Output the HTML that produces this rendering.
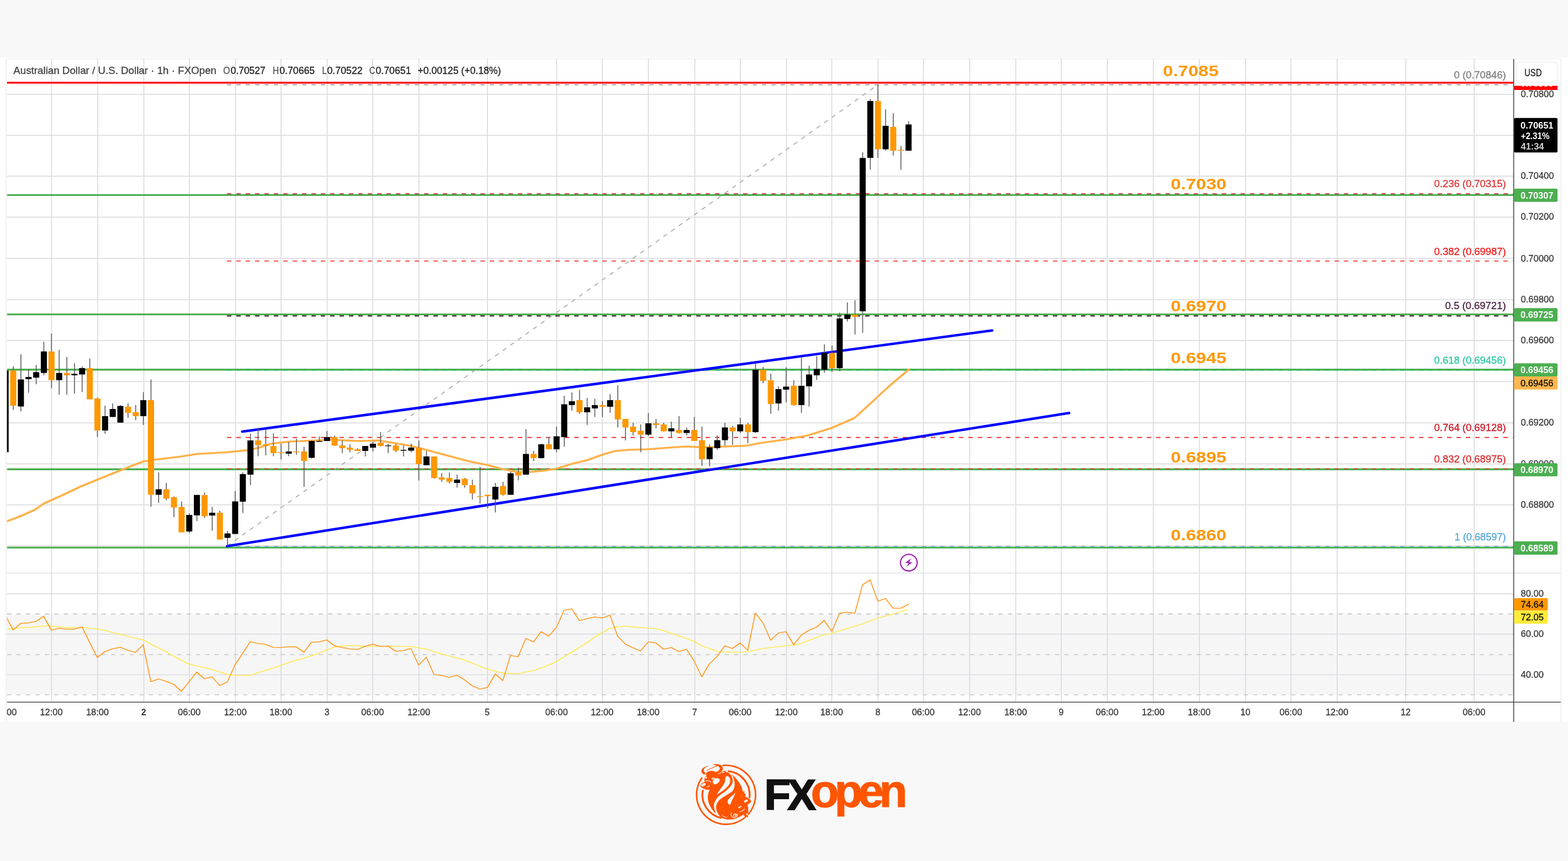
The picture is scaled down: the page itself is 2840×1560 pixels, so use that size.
<!DOCTYPE html>
<html lang="en"><head><meta charset="utf-8"><title>AUDUSD chart</title>
<style>
html,body{margin:0;padding:0;}
body{width:2840px;height:1560px;background:#f8f8f8;position:relative;overflow:hidden;font-family:"Liberation Sans", sans-serif;}
#band{position:absolute;left:0;top:104px;width:2840px;height:1204px;background:#fff;}
</style></head><body>
<div id="band"></div>
<svg width="2840" height="1560" viewBox="0 0 2840 1560" font-family='"Liberation Sans", sans-serif' style="position:absolute;left:0;top:0">
<defs>
<clipPath id="cpMain"><rect x="12.6" y="107.0" width="2728.4" height="931.2"/></clipPath>
<clipPath id="cpAll"><rect x="12.6" y="107.0" width="2728.4" height="1165.3"/></clipPath>
<clipPath id="cpRsi"><rect x="12.6" y="1038.2" width="2728.4" height="234.0999999999999"/></clipPath>
<clipPath id="cpTime"><rect x="12.6" y="1272.3" width="2728.4" height="40"/></clipPath>
</defs>
<path d="M11.3,1308 L11.3,106.5 L2827.5,106.5 L2827.5,1308" fill="none" stroke="#f3f3f3" stroke-width="2.6"/>
<rect x="12.60" y="1112.50" width="2728.40" height="146.10" fill="#f6f6f7"/>
<line x1="93.30" y1="107.00" x2="93.30" y2="1272.30" stroke="#d9d9dc" stroke-width="1.6"/>
<line x1="176.80" y1="107.00" x2="176.80" y2="1272.30" stroke="#d9d9dc" stroke-width="1.6"/>
<line x1="260.55" y1="107.00" x2="260.55" y2="1272.30" stroke="#d9d9dc" stroke-width="1.6"/>
<line x1="343.05" y1="107.00" x2="343.05" y2="1272.30" stroke="#d9d9dc" stroke-width="1.6"/>
<line x1="426.55" y1="107.00" x2="426.55" y2="1272.30" stroke="#d9d9dc" stroke-width="1.6"/>
<line x1="509.05" y1="107.00" x2="509.05" y2="1272.30" stroke="#d9d9dc" stroke-width="1.6"/>
<line x1="592.55" y1="107.00" x2="592.55" y2="1272.30" stroke="#d9d9dc" stroke-width="1.6"/>
<line x1="675.05" y1="107.00" x2="675.05" y2="1272.30" stroke="#d9d9dc" stroke-width="1.6"/>
<line x1="758.80" y1="107.00" x2="758.80" y2="1272.30" stroke="#d9d9dc" stroke-width="1.6"/>
<line x1="882.80" y1="107.00" x2="882.80" y2="1272.30" stroke="#d9d9dc" stroke-width="1.6"/>
<line x1="1008.30" y1="107.00" x2="1008.30" y2="1272.30" stroke="#d9d9dc" stroke-width="1.6"/>
<line x1="1090.80" y1="107.00" x2="1090.80" y2="1272.30" stroke="#d9d9dc" stroke-width="1.6"/>
<line x1="1174.30" y1="107.00" x2="1174.30" y2="1272.30" stroke="#d9d9dc" stroke-width="1.6"/>
<line x1="1258.55" y1="107.00" x2="1258.55" y2="1272.30" stroke="#d9d9dc" stroke-width="1.6"/>
<line x1="1340.80" y1="107.00" x2="1340.80" y2="1272.30" stroke="#d9d9dc" stroke-width="1.6"/>
<line x1="1424.55" y1="107.00" x2="1424.55" y2="1272.30" stroke="#d9d9dc" stroke-width="1.6"/>
<line x1="1506.55" y1="107.00" x2="1506.55" y2="1272.30" stroke="#d9d9dc" stroke-width="1.6"/>
<line x1="1590.30" y1="107.00" x2="1590.30" y2="1272.30" stroke="#d9d9dc" stroke-width="1.6"/>
<line x1="1672.55" y1="107.00" x2="1672.55" y2="1272.30" stroke="#d9d9dc" stroke-width="1.6"/>
<line x1="1756.30" y1="107.00" x2="1756.30" y2="1272.30" stroke="#d9d9dc" stroke-width="1.6"/>
<line x1="1839.80" y1="107.00" x2="1839.80" y2="1272.30" stroke="#d9d9dc" stroke-width="1.6"/>
<line x1="1922.30" y1="107.00" x2="1922.30" y2="1272.30" stroke="#d9d9dc" stroke-width="1.6"/>
<line x1="2005.60" y1="107.00" x2="2005.60" y2="1272.30" stroke="#d9d9dc" stroke-width="1.6"/>
<line x1="2088.90" y1="107.00" x2="2088.90" y2="1272.30" stroke="#d9d9dc" stroke-width="1.6"/>
<line x1="2172.40" y1="107.00" x2="2172.40" y2="1272.30" stroke="#d9d9dc" stroke-width="1.6"/>
<line x1="2256.00" y1="107.00" x2="2256.00" y2="1272.30" stroke="#d9d9dc" stroke-width="1.6"/>
<line x1="2338.30" y1="107.00" x2="2338.30" y2="1272.30" stroke="#d9d9dc" stroke-width="1.6"/>
<line x1="2421.80" y1="107.00" x2="2421.80" y2="1272.30" stroke="#d9d9dc" stroke-width="1.6"/>
<line x1="2546.30" y1="107.00" x2="2546.30" y2="1272.30" stroke="#d9d9dc" stroke-width="1.6"/>
<line x1="2670.05" y1="107.00" x2="2670.05" y2="1272.30" stroke="#d9d9dc" stroke-width="1.6"/>
<line x1="12.60" y1="171.00" x2="2741.00" y2="171.00" stroke="#e0e0e0" stroke-width="1.9"/>
<line x1="12.60" y1="245.20" x2="2741.00" y2="245.20" stroke="#e0e0e0" stroke-width="1.9"/>
<line x1="12.60" y1="319.30" x2="2741.00" y2="319.30" stroke="#e0e0e0" stroke-width="1.9"/>
<line x1="12.60" y1="393.50" x2="2741.00" y2="393.50" stroke="#e0e0e0" stroke-width="1.9"/>
<line x1="12.60" y1="468.30" x2="2741.00" y2="468.30" stroke="#e0e0e0" stroke-width="1.9"/>
<line x1="12.60" y1="542.90" x2="2741.00" y2="542.90" stroke="#e0e0e0" stroke-width="1.9"/>
<line x1="12.60" y1="617.00" x2="2741.00" y2="617.00" stroke="#e0e0e0" stroke-width="1.9"/>
<line x1="12.60" y1="691.30" x2="2741.00" y2="691.30" stroke="#e0e0e0" stroke-width="1.9"/>
<line x1="12.60" y1="766.30" x2="2741.00" y2="766.30" stroke="#e0e0e0" stroke-width="1.9"/>
<line x1="12.60" y1="840.50" x2="2741.00" y2="840.50" stroke="#e0e0e0" stroke-width="1.9"/>
<line x1="12.60" y1="914.70" x2="2741.00" y2="914.70" stroke="#e0e0e0" stroke-width="1.9"/>
<line x1="12.60" y1="988.80" x2="2741.00" y2="988.80" stroke="#e0e0e0" stroke-width="1.9"/>
<line x1="12.60" y1="1075.80" x2="2741.00" y2="1075.80" stroke="#dddde2" stroke-width="1.7"/>
<line x1="12.60" y1="1148.80" x2="2741.00" y2="1148.80" stroke="#dddde2" stroke-width="1.7"/>
<line x1="12.60" y1="1222.50" x2="2741.00" y2="1222.50" stroke="#dddde2" stroke-width="1.7"/>
<line x1="12.60" y1="1112.50" x2="2741.00" y2="1112.50" stroke="#bcbcbc" stroke-width="1.3" stroke-dasharray="8 9.1"/>
<line x1="12.60" y1="1186.20" x2="2741.00" y2="1186.20" stroke="#bcbcbc" stroke-width="1.3" stroke-dasharray="8 9.1"/>
<line x1="12.60" y1="1258.90" x2="2741.00" y2="1258.90" stroke="#bcbcbc" stroke-width="1.3" stroke-dasharray="8 9.1"/>
<line x1="12.60" y1="1038.20" x2="2827.00" y2="1038.20" stroke="#dcdfe8" stroke-width="1.6"/>
<g clip-path="url(#cpMain)">
<line x1="12.60" y1="149.90" x2="2741.00" y2="149.90" stroke="#ff0000" stroke-width="3.1"/>
<line x1="12.60" y1="353.40" x2="2741.00" y2="353.40" stroke="#4caf50" stroke-width="3.4"/>
<line x1="12.60" y1="569.60" x2="2741.00" y2="569.60" stroke="#4caf50" stroke-width="3.4"/>
<line x1="12.60" y1="669.80" x2="2741.00" y2="669.80" stroke="#4caf50" stroke-width="3.4"/>
<line x1="12.60" y1="850.20" x2="2741.00" y2="850.20" stroke="#4caf50" stroke-width="3.4"/>
<line x1="12.60" y1="992.10" x2="2741.00" y2="992.10" stroke="#4caf50" stroke-width="3.4"/>
<line x1="411.00" y1="153.60" x2="2741.00" y2="153.60" stroke="#7a7a7a" stroke-width="1.4" stroke-dasharray="8 9"/>
<line x1="411.00" y1="351.20" x2="2741.00" y2="351.20" stroke="#d02f2f" stroke-width="1.8" stroke-dasharray="8 9"/>
<line x1="411.00" y1="473.00" x2="2741.00" y2="473.00" stroke="#f51c1c" stroke-width="1.6" stroke-dasharray="8 9"/>
<line x1="411.00" y1="572.30" x2="2741.00" y2="572.30" stroke="#4a1f3a" stroke-width="2.2" stroke-dasharray="8 9"/>
<line x1="411.00" y1="671.20" x2="2741.00" y2="671.20" stroke="#26c6a0" stroke-width="1.3" stroke-dasharray="8 9"/>
<line x1="411.00" y1="792.60" x2="2741.00" y2="792.60" stroke="#f01818" stroke-width="1.6" stroke-dasharray="8 9"/>
<line x1="411.00" y1="849.60" x2="2741.00" y2="849.60" stroke="#e03030" stroke-width="1.5" stroke-dasharray="8 9"/>
<line x1="411.00" y1="990.20" x2="2741.00" y2="990.20" stroke="#5aa9dd" stroke-width="1.6" stroke-dasharray="8 9"/>
<line x1="411.00" y1="989.50" x2="1590.00" y2="153.60" stroke="#a6a6a6" stroke-width="1.6" stroke-dasharray="8 9"/>
<line x1="438.80" y1="782.00" x2="1797.00" y2="598.70" stroke="#0000ff" stroke-width="4.6" stroke-linecap="round"/>
<line x1="411.30" y1="989.60" x2="1936.40" y2="748.30" stroke="#0000ff" stroke-width="4.6" stroke-linecap="round"/>
<polyline points="12.50,944.50 37.50,935.00 62.50,924.00 80.00,912.00 112.50,897.50 145.00,882.00 176.50,869.00 212.50,854.50 237.50,844.50 260.00,836.00 280.00,833.00 325.00,827.50 357.50,822.50 410.00,819.50 450.00,815.50 470.00,811.00 490.00,804.00 525.00,800.00 562.50,798.50 600.00,796.50 625.00,798.00 650.00,799.00 685.00,798.00 712.50,802.50 745.00,808.00 775.00,816.00 812.50,826.00 850.00,836.00 882.50,842.50 912.50,850.50 937.50,855.00 962.50,855.00 987.50,852.50 1008.00,849.00 1037.50,840.00 1062.50,834.00 1090.50,824.00 1112.50,817.50 1137.50,815.00 1174.00,814.00 1212.50,811.00 1242.50,809.00 1275.00,810.50 1312.50,809.00 1352.50,807.50 1375.00,803.00 1425.00,796.00 1462.50,789.00 1506.00,775.50 1547.50,757.50 1575.00,732.50 1610.00,700.00 1646.00,669.50" fill="none" stroke="#ffb24a" stroke-width="3.7" stroke-linejoin="round" stroke-linecap="round"/>
<line x1="10.14" y1="671.25" x2="10.14" y2="819.25" stroke="#5c5c5c" stroke-width="1.6"/>
<rect x="4.64" y="671.25" width="11.00" height="148.00" fill="#000000"/>
<line x1="24.00" y1="663.75" x2="24.00" y2="742.50" stroke="#5c5c5c" stroke-width="1.6"/>
<rect x="18.50" y="671.25" width="11.00" height="63.75" fill="#ff9800"/>
<line x1="37.86" y1="642.00" x2="37.86" y2="745.50" stroke="#5c5c5c" stroke-width="1.6"/>
<rect x="32.36" y="687.50" width="11.00" height="49.00" fill="#000000"/>
<line x1="51.72" y1="668.75" x2="51.72" y2="711.75" stroke="#5c5c5c" stroke-width="1.6"/>
<rect x="46.22" y="683.00" width="11.00" height="4.00" fill="#000000"/>
<line x1="65.58" y1="661.25" x2="65.58" y2="696.25" stroke="#5c5c5c" stroke-width="1.6"/>
<rect x="60.08" y="674.25" width="11.00" height="10.00" fill="#000000"/>
<line x1="79.44" y1="619.25" x2="79.44" y2="680.00" stroke="#5c5c5c" stroke-width="1.6"/>
<rect x="73.94" y="636.75" width="11.00" height="39.00" fill="#000000"/>
<line x1="93.30" y1="604.50" x2="93.30" y2="703.50" stroke="#5c5c5c" stroke-width="1.6"/>
<rect x="87.80" y="636.75" width="11.00" height="52.00" fill="#ff9800"/>
<line x1="107.16" y1="633.75" x2="107.16" y2="715.00" stroke="#5c5c5c" stroke-width="1.6"/>
<rect x="101.66" y="675.75" width="11.00" height="13.00" fill="#000000"/>
<line x1="121.02" y1="646.75" x2="121.02" y2="715.00" stroke="#5c5c5c" stroke-width="1.6"/>
<rect x="115.52" y="675.75" width="11.00" height="4.25" fill="#ff9800"/>
<line x1="134.88" y1="658.25" x2="134.88" y2="713.50" stroke="#5c5c5c" stroke-width="1.6"/>
<rect x="129.38" y="677.25" width="11.00" height="2.75" fill="#000000"/>
<line x1="148.74" y1="663.75" x2="148.74" y2="710.50" stroke="#5c5c5c" stroke-width="1.6"/>
<rect x="143.24" y="667.00" width="11.00" height="11.50" fill="#000000"/>
<line x1="162.60" y1="649.50" x2="162.60" y2="723.50" stroke="#5c5c5c" stroke-width="1.6"/>
<rect x="157.10" y="667.00" width="11.00" height="56.50" fill="#ff9800"/>
<line x1="176.46" y1="720.50" x2="176.46" y2="791.75" stroke="#5c5c5c" stroke-width="1.6"/>
<rect x="170.96" y="722.00" width="11.00" height="58.00" fill="#ff9800"/>
<line x1="190.32" y1="735.00" x2="190.32" y2="786.00" stroke="#5c5c5c" stroke-width="1.6"/>
<rect x="184.82" y="754.00" width="11.00" height="26.00" fill="#000000"/>
<line x1="204.18" y1="731.00" x2="204.18" y2="755.50" stroke="#5c5c5c" stroke-width="1.6"/>
<rect x="198.68" y="741.00" width="11.00" height="14.50" fill="#000000"/>
<line x1="218.04" y1="734.00" x2="218.04" y2="765.75" stroke="#5c5c5c" stroke-width="1.6"/>
<rect x="212.54" y="735.50" width="11.00" height="30.25" fill="#000000"/>
<line x1="231.90" y1="731.00" x2="231.90" y2="757.00" stroke="#5c5c5c" stroke-width="1.6"/>
<rect x="226.40" y="736.75" width="11.00" height="11.25" fill="#ff9800"/>
<line x1="245.76" y1="733.75" x2="245.76" y2="761.25" stroke="#5c5c5c" stroke-width="1.6"/>
<rect x="240.26" y="746.75" width="11.00" height="7.25" fill="#ff9800"/>
<line x1="259.62" y1="710.50" x2="259.62" y2="770.00" stroke="#5c5c5c" stroke-width="1.6"/>
<rect x="254.12" y="725.00" width="11.00" height="29.00" fill="#000000"/>
<line x1="273.48" y1="687.50" x2="273.48" y2="918.00" stroke="#5c5c5c" stroke-width="1.6"/>
<rect x="267.98" y="725.00" width="11.00" height="171.50" fill="#ff9800"/>
<line x1="287.34" y1="856.00" x2="287.34" y2="911.00" stroke="#5c5c5c" stroke-width="1.6"/>
<rect x="281.84" y="886.50" width="11.00" height="10.00" fill="#000000"/>
<line x1="301.20" y1="875.00" x2="301.20" y2="906.50" stroke="#5c5c5c" stroke-width="1.6"/>
<rect x="295.70" y="886.50" width="11.00" height="17.00" fill="#ff9800"/>
<line x1="315.06" y1="899.50" x2="315.06" y2="937.00" stroke="#5c5c5c" stroke-width="1.6"/>
<rect x="309.56" y="901.00" width="11.00" height="18.50" fill="#ff9800"/>
<line x1="328.92" y1="908.50" x2="328.92" y2="964.50" stroke="#5c5c5c" stroke-width="1.6"/>
<rect x="323.42" y="918.50" width="11.00" height="46.00" fill="#ff9800"/>
<line x1="342.78" y1="930.00" x2="342.78" y2="966.00" stroke="#5c5c5c" stroke-width="1.6"/>
<rect x="337.28" y="933.00" width="11.00" height="30.00" fill="#000000"/>
<line x1="356.64" y1="896.75" x2="356.64" y2="944.00" stroke="#5c5c5c" stroke-width="1.6"/>
<rect x="351.14" y="896.75" width="11.00" height="37.00" fill="#000000"/>
<line x1="370.50" y1="892.50" x2="370.50" y2="938.50" stroke="#5c5c5c" stroke-width="1.6"/>
<rect x="365.00" y="897.00" width="11.00" height="38.50" fill="#ff9800"/>
<line x1="384.36" y1="918.50" x2="384.36" y2="961.50" stroke="#5c5c5c" stroke-width="1.6"/>
<rect x="378.86" y="929.00" width="11.00" height="5.00" fill="#000000"/>
<line x1="398.22" y1="925.50" x2="398.22" y2="977.50" stroke="#5c5c5c" stroke-width="1.6"/>
<rect x="392.72" y="929.00" width="11.00" height="48.50" fill="#ff9800"/>
<line x1="412.08" y1="962.00" x2="412.08" y2="989.50" stroke="#5c5c5c" stroke-width="1.6"/>
<rect x="406.58" y="966.50" width="11.00" height="8.00" fill="#000000"/>
<line x1="425.94" y1="889.50" x2="425.94" y2="967.50" stroke="#5c5c5c" stroke-width="1.6"/>
<rect x="420.44" y="908.50" width="11.00" height="59.00" fill="#000000"/>
<line x1="439.80" y1="856.00" x2="439.80" y2="929.50" stroke="#5c5c5c" stroke-width="1.6"/>
<rect x="434.30" y="859.00" width="11.00" height="50.00" fill="#000000"/>
<line x1="453.66" y1="786.00" x2="453.66" y2="879.00" stroke="#5c5c5c" stroke-width="1.6"/>
<rect x="448.16" y="798.00" width="11.00" height="62.00" fill="#000000"/>
<line x1="467.52" y1="775.00" x2="467.52" y2="826.50" stroke="#5c5c5c" stroke-width="1.6"/>
<rect x="462.02" y="798.00" width="11.00" height="8.50" fill="#ff9800"/>
<line x1="481.38" y1="778.00" x2="481.38" y2="825.00" stroke="#5c5c5c" stroke-width="1.6"/>
<rect x="475.88" y="805.00" width="11.00" height="2.50" fill="#ff9800"/>
<line x1="495.24" y1="785.00" x2="495.24" y2="826.50" stroke="#5c5c5c" stroke-width="1.6"/>
<rect x="489.74" y="808.00" width="11.00" height="13.00" fill="#ff9800"/>
<line x1="509.10" y1="804.00" x2="509.10" y2="832.50" stroke="#5c5c5c" stroke-width="1.6"/>
<rect x="503.60" y="819.50" width="11.00" height="1.50" fill="#ff9800"/>
<line x1="522.96" y1="801.00" x2="522.96" y2="826.50" stroke="#5c5c5c" stroke-width="1.6"/>
<rect x="517.46" y="818.00" width="11.00" height="4.00" fill="#000000"/>
<line x1="536.82" y1="795.00" x2="536.82" y2="824.00" stroke="#5c5c5c" stroke-width="1.6"/>
<rect x="531.32" y="818.00" width="11.00" height="1.50" fill="#ff9800"/>
<line x1="550.68" y1="809.50" x2="550.68" y2="882.00" stroke="#5c5c5c" stroke-width="1.6"/>
<rect x="545.18" y="818.00" width="11.00" height="17.00" fill="#ff9800"/>
<line x1="564.54" y1="798.00" x2="564.54" y2="831.00" stroke="#5c5c5c" stroke-width="1.6"/>
<rect x="559.04" y="799.00" width="11.00" height="30.50" fill="#000000"/>
<line x1="578.40" y1="791.00" x2="578.40" y2="800.50" stroke="#5c5c5c" stroke-width="1.6"/>
<rect x="572.90" y="799.00" width="11.00" height="1.50" fill="#000000"/>
<line x1="592.26" y1="781.00" x2="592.26" y2="799.00" stroke="#5c5c5c" stroke-width="1.6"/>
<rect x="586.76" y="792.00" width="11.00" height="7.00" fill="#000000"/>
<line x1="606.12" y1="789.00" x2="606.12" y2="807.50" stroke="#5c5c5c" stroke-width="1.6"/>
<rect x="600.62" y="792.00" width="11.00" height="15.50" fill="#ff9800"/>
<line x1="619.98" y1="798.00" x2="619.98" y2="821.00" stroke="#5c5c5c" stroke-width="1.6"/>
<rect x="614.48" y="807.00" width="11.00" height="5.00" fill="#ff9800"/>
<line x1="633.84" y1="805.00" x2="633.84" y2="819.50" stroke="#5c5c5c" stroke-width="1.6"/>
<rect x="628.34" y="811.00" width="11.00" height="4.00" fill="#ff9800"/>
<line x1="647.70" y1="812.00" x2="647.70" y2="817.00" stroke="#5c5c5c" stroke-width="1.6"/>
<rect x="642.20" y="814.00" width="11.00" height="3.00" fill="#ff9800"/>
<line x1="661.56" y1="808.00" x2="661.56" y2="827.00" stroke="#5c5c5c" stroke-width="1.6"/>
<rect x="656.06" y="808.00" width="11.00" height="9.00" fill="#000000"/>
<line x1="675.42" y1="801.00" x2="675.42" y2="818.00" stroke="#5c5c5c" stroke-width="1.6"/>
<rect x="669.92" y="804.00" width="11.00" height="7.00" fill="#000000"/>
<line x1="689.28" y1="783.00" x2="689.28" y2="809.00" stroke="#5c5c5c" stroke-width="1.6"/>
<rect x="683.78" y="802.00" width="11.00" height="6.00" fill="#ff9800"/>
<line x1="703.14" y1="804.00" x2="703.14" y2="821.00" stroke="#5c5c5c" stroke-width="1.6"/>
<rect x="697.64" y="807.00" width="11.00" height="1.30" fill="#000000"/>
<line x1="717.00" y1="804.00" x2="717.00" y2="819.00" stroke="#5c5c5c" stroke-width="1.6"/>
<rect x="711.50" y="807.00" width="11.00" height="9.50" fill="#ff9800"/>
<line x1="730.86" y1="807.00" x2="730.86" y2="827.00" stroke="#5c5c5c" stroke-width="1.6"/>
<rect x="725.36" y="815.00" width="11.00" height="1.50" fill="#000000"/>
<line x1="744.72" y1="804.00" x2="744.72" y2="819.50" stroke="#5c5c5c" stroke-width="1.6"/>
<rect x="739.22" y="811.00" width="11.00" height="5.50" fill="#000000"/>
<line x1="758.58" y1="798.00" x2="758.58" y2="870.50" stroke="#5c5c5c" stroke-width="1.6"/>
<rect x="753.08" y="811.00" width="11.00" height="30.00" fill="#ff9800"/>
<line x1="772.44" y1="817.00" x2="772.44" y2="843.00" stroke="#5c5c5c" stroke-width="1.6"/>
<rect x="766.94" y="827.00" width="11.00" height="16.00" fill="#000000"/>
<line x1="786.30" y1="827.00" x2="786.30" y2="867.50" stroke="#5c5c5c" stroke-width="1.6"/>
<rect x="780.80" y="827.00" width="11.00" height="39.00" fill="#ff9800"/>
<line x1="800.16" y1="857.50" x2="800.16" y2="873.00" stroke="#5c5c5c" stroke-width="1.6"/>
<rect x="794.66" y="865.00" width="11.00" height="4.00" fill="#ff9800"/>
<line x1="814.02" y1="856.00" x2="814.02" y2="876.00" stroke="#5c5c5c" stroke-width="1.6"/>
<rect x="808.52" y="866.00" width="11.00" height="7.00" fill="#ff9800"/>
<line x1="827.88" y1="860.00" x2="827.88" y2="883.50" stroke="#5c5c5c" stroke-width="1.6"/>
<rect x="822.38" y="869.00" width="11.00" height="6.00" fill="#000000"/>
<line x1="841.74" y1="866.00" x2="841.74" y2="883.50" stroke="#5c5c5c" stroke-width="1.6"/>
<rect x="836.24" y="867.50" width="11.00" height="11.50" fill="#ff9800"/>
<line x1="855.60" y1="869.00" x2="855.60" y2="905.00" stroke="#5c5c5c" stroke-width="1.6"/>
<rect x="850.10" y="879.00" width="11.00" height="15.00" fill="#ff9800"/>
<line x1="869.46" y1="846.00" x2="869.46" y2="912.50" stroke="#5c5c5c" stroke-width="1.6"/>
<rect x="863.96" y="899.00" width="11.00" height="1.50" fill="#ff9800"/>
<line x1="883.32" y1="896.50" x2="883.32" y2="921.00" stroke="#5c5c5c" stroke-width="1.6"/>
<rect x="877.82" y="896.50" width="11.00" height="2.50" fill="#ff9800"/>
<line x1="897.18" y1="875.00" x2="897.18" y2="928.50" stroke="#5c5c5c" stroke-width="1.6"/>
<rect x="891.68" y="882.00" width="11.00" height="23.00" fill="#000000"/>
<line x1="911.04" y1="873.00" x2="911.04" y2="898.00" stroke="#5c5c5c" stroke-width="1.6"/>
<rect x="905.54" y="880.50" width="11.00" height="16.00" fill="#ff9800"/>
<line x1="924.90" y1="854.50" x2="924.90" y2="896.50" stroke="#5c5c5c" stroke-width="1.6"/>
<rect x="919.40" y="857.50" width="11.00" height="39.00" fill="#000000"/>
<line x1="938.76" y1="847.00" x2="938.76" y2="870.50" stroke="#5c5c5c" stroke-width="1.6"/>
<rect x="933.26" y="856.00" width="11.00" height="5.50" fill="#ff9800"/>
<line x1="952.62" y1="777.50" x2="952.62" y2="860.00" stroke="#5c5c5c" stroke-width="1.6"/>
<rect x="947.12" y="822.50" width="11.00" height="37.50" fill="#000000"/>
<line x1="966.48" y1="817.00" x2="966.48" y2="835.50" stroke="#5c5c5c" stroke-width="1.6"/>
<rect x="960.98" y="822.50" width="11.00" height="7.50" fill="#ff9800"/>
<line x1="980.34" y1="804.00" x2="980.34" y2="831.00" stroke="#5c5c5c" stroke-width="1.6"/>
<rect x="974.84" y="805.00" width="11.00" height="25.00" fill="#000000"/>
<line x1="994.20" y1="792.00" x2="994.20" y2="814.00" stroke="#5c5c5c" stroke-width="1.6"/>
<rect x="988.70" y="805.00" width="11.00" height="9.00" fill="#ff9800"/>
<line x1="1008.06" y1="773.00" x2="1008.06" y2="819.50" stroke="#5c5c5c" stroke-width="1.6"/>
<rect x="1002.56" y="790.50" width="11.00" height="23.50" fill="#000000"/>
<line x1="1021.92" y1="717.00" x2="1021.92" y2="809.50" stroke="#5c5c5c" stroke-width="1.6"/>
<rect x="1016.42" y="732.50" width="11.00" height="59.50" fill="#000000"/>
<line x1="1035.78" y1="711.00" x2="1035.78" y2="744.00" stroke="#5c5c5c" stroke-width="1.6"/>
<rect x="1030.28" y="727.00" width="11.00" height="7.00" fill="#000000"/>
<line x1="1049.64" y1="706.50" x2="1049.64" y2="750.00" stroke="#5c5c5c" stroke-width="1.6"/>
<rect x="1044.14" y="725.00" width="11.00" height="22.00" fill="#ff9800"/>
<line x1="1063.50" y1="721.00" x2="1063.50" y2="770.00" stroke="#5c5c5c" stroke-width="1.6"/>
<rect x="1058.00" y="738.00" width="11.00" height="9.00" fill="#000000"/>
<line x1="1077.36" y1="722.50" x2="1077.36" y2="755.50" stroke="#5c5c5c" stroke-width="1.6"/>
<rect x="1071.86" y="734.00" width="11.00" height="6.00" fill="#000000"/>
<line x1="1091.22" y1="727.00" x2="1091.22" y2="755.50" stroke="#5c5c5c" stroke-width="1.6"/>
<rect x="1085.72" y="734.00" width="11.00" height="3.00" fill="#ff9800"/>
<line x1="1105.08" y1="714.00" x2="1105.08" y2="748.00" stroke="#5c5c5c" stroke-width="1.6"/>
<rect x="1099.58" y="725.00" width="11.00" height="12.00" fill="#000000"/>
<line x1="1118.94" y1="698.00" x2="1118.94" y2="774.50" stroke="#5c5c5c" stroke-width="1.6"/>
<rect x="1113.44" y="725.00" width="11.00" height="35.00" fill="#ff9800"/>
<line x1="1132.80" y1="759.00" x2="1132.80" y2="798.00" stroke="#5c5c5c" stroke-width="1.6"/>
<rect x="1127.30" y="759.00" width="11.00" height="15.50" fill="#ff9800"/>
<line x1="1146.66" y1="766.00" x2="1146.66" y2="789.00" stroke="#5c5c5c" stroke-width="1.6"/>
<rect x="1141.16" y="773.00" width="11.00" height="10.00" fill="#ff9800"/>
<line x1="1160.52" y1="769.00" x2="1160.52" y2="819.50" stroke="#5c5c5c" stroke-width="1.6"/>
<rect x="1155.02" y="780.50" width="11.00" height="7.00" fill="#ff9800"/>
<line x1="1174.38" y1="748.50" x2="1174.38" y2="790.50" stroke="#5c5c5c" stroke-width="1.6"/>
<rect x="1168.88" y="767.00" width="11.00" height="20.50" fill="#000000"/>
<line x1="1188.24" y1="759.00" x2="1188.24" y2="776.00" stroke="#5c5c5c" stroke-width="1.6"/>
<rect x="1182.74" y="767.00" width="11.00" height="3.00" fill="#ff9800"/>
<line x1="1202.10" y1="766.00" x2="1202.10" y2="782.00" stroke="#5c5c5c" stroke-width="1.6"/>
<rect x="1196.60" y="769.00" width="11.00" height="12.50" fill="#ff9800"/>
<line x1="1215.96" y1="764.00" x2="1215.96" y2="792.50" stroke="#5c5c5c" stroke-width="1.6"/>
<rect x="1210.46" y="776.00" width="11.00" height="5.50" fill="#000000"/>
<line x1="1229.82" y1="754.00" x2="1229.82" y2="785.50" stroke="#5c5c5c" stroke-width="1.6"/>
<rect x="1224.32" y="779.00" width="11.00" height="5.50" fill="#ff9800"/>
<line x1="1243.68" y1="774.50" x2="1243.68" y2="788.50" stroke="#5c5c5c" stroke-width="1.6"/>
<rect x="1238.18" y="779.00" width="11.00" height="5.50" fill="#000000"/>
<line x1="1257.54" y1="755.50" x2="1257.54" y2="799.00" stroke="#5c5c5c" stroke-width="1.6"/>
<rect x="1252.04" y="779.00" width="11.00" height="20.00" fill="#ff9800"/>
<line x1="1271.40" y1="773.00" x2="1271.40" y2="844.00" stroke="#5c5c5c" stroke-width="1.6"/>
<rect x="1265.90" y="797.50" width="11.00" height="34.50" fill="#ff9800"/>
<line x1="1285.26" y1="805.00" x2="1285.26" y2="845.00" stroke="#5c5c5c" stroke-width="1.6"/>
<rect x="1279.76" y="810.50" width="11.00" height="21.50" fill="#000000"/>
<line x1="1299.12" y1="789.00" x2="1299.12" y2="815.00" stroke="#5c5c5c" stroke-width="1.6"/>
<rect x="1293.62" y="797.50" width="11.00" height="14.50" fill="#000000"/>
<line x1="1312.98" y1="766.00" x2="1312.98" y2="807.50" stroke="#5c5c5c" stroke-width="1.6"/>
<rect x="1307.48" y="774.50" width="11.00" height="23.00" fill="#000000"/>
<line x1="1326.84" y1="771.50" x2="1326.84" y2="806.00" stroke="#5c5c5c" stroke-width="1.6"/>
<rect x="1321.34" y="774.50" width="11.00" height="7.00" fill="#ff9800"/>
<line x1="1340.70" y1="757.00" x2="1340.70" y2="784.50" stroke="#5c5c5c" stroke-width="1.6"/>
<rect x="1335.20" y="769.00" width="11.00" height="12.50" fill="#000000"/>
<line x1="1354.56" y1="766.00" x2="1354.56" y2="803.00" stroke="#5c5c5c" stroke-width="1.6"/>
<rect x="1349.06" y="769.00" width="11.00" height="14.00" fill="#ff9800"/>
<line x1="1368.42" y1="658.00" x2="1368.42" y2="784.50" stroke="#5c5c5c" stroke-width="1.6"/>
<rect x="1362.92" y="670.00" width="11.00" height="113.00" fill="#000000"/>
<line x1="1382.28" y1="665.00" x2="1382.28" y2="694.50" stroke="#5c5c5c" stroke-width="1.6"/>
<rect x="1376.78" y="670.00" width="11.00" height="20.00" fill="#ff9800"/>
<line x1="1396.14" y1="677.00" x2="1396.14" y2="749.50" stroke="#5c5c5c" stroke-width="1.6"/>
<rect x="1390.64" y="689.00" width="11.00" height="43.00" fill="#ff9800"/>
<line x1="1410.00" y1="700.00" x2="1410.00" y2="744.00" stroke="#5c5c5c" stroke-width="1.6"/>
<rect x="1404.50" y="705.00" width="11.00" height="26.00" fill="#000000"/>
<line x1="1423.86" y1="665.50" x2="1423.86" y2="729.00" stroke="#5c5c5c" stroke-width="1.6"/>
<rect x="1418.36" y="700.50" width="11.00" height="5.50" fill="#000000"/>
<line x1="1437.72" y1="689.00" x2="1437.72" y2="735.00" stroke="#5c5c5c" stroke-width="1.6"/>
<rect x="1432.22" y="699.00" width="11.00" height="35.00" fill="#ff9800"/>
<line x1="1451.58" y1="647.50" x2="1451.58" y2="748.00" stroke="#5c5c5c" stroke-width="1.6"/>
<rect x="1446.08" y="699.00" width="11.00" height="35.00" fill="#000000"/>
<line x1="1465.44" y1="662.50" x2="1465.44" y2="736.50" stroke="#5c5c5c" stroke-width="1.6"/>
<rect x="1459.94" y="678.50" width="11.00" height="21.50" fill="#000000"/>
<line x1="1479.30" y1="645.00" x2="1479.30" y2="688.50" stroke="#5c5c5c" stroke-width="1.6"/>
<rect x="1473.80" y="668.50" width="11.00" height="11.50" fill="#000000"/>
<line x1="1493.16" y1="623.70" x2="1493.16" y2="675.50" stroke="#5c5c5c" stroke-width="1.6"/>
<rect x="1487.66" y="639.50" width="11.00" height="30.50" fill="#000000"/>
<line x1="1507.02" y1="626.00" x2="1507.02" y2="674.00" stroke="#5c5c5c" stroke-width="1.6"/>
<rect x="1501.52" y="639.50" width="11.00" height="27.50" fill="#ff9800"/>
<line x1="1520.88" y1="566.50" x2="1520.88" y2="672.50" stroke="#5c5c5c" stroke-width="1.6"/>
<rect x="1515.38" y="577.00" width="11.00" height="90.00" fill="#000000"/>
<line x1="1534.74" y1="548.00" x2="1534.74" y2="582.50" stroke="#5c5c5c" stroke-width="1.6"/>
<rect x="1529.24" y="570.00" width="11.00" height="8.00" fill="#000000"/>
<line x1="1548.60" y1="544.00" x2="1548.60" y2="606.00" stroke="#5c5c5c" stroke-width="1.6"/>
<rect x="1543.10" y="570.00" width="11.00" height="4.00" fill="#ff9800"/>
<line x1="1562.46" y1="276.00" x2="1562.46" y2="603.00" stroke="#5c5c5c" stroke-width="1.6"/>
<rect x="1556.96" y="286.25" width="11.00" height="277.75" fill="#000000"/>
<line x1="1576.32" y1="179.00" x2="1576.32" y2="307.50" stroke="#5c5c5c" stroke-width="1.6"/>
<rect x="1570.82" y="183.00" width="11.00" height="103.00" fill="#000000"/>
<line x1="1590.18" y1="153.00" x2="1590.18" y2="286.00" stroke="#5c5c5c" stroke-width="1.6"/>
<rect x="1584.68" y="183.00" width="11.00" height="87.50" fill="#ff9800"/>
<line x1="1604.04" y1="198.00" x2="1604.04" y2="273.00" stroke="#5c5c5c" stroke-width="1.6"/>
<rect x="1598.54" y="228.00" width="11.00" height="42.50" fill="#000000"/>
<line x1="1617.90" y1="205.00" x2="1617.90" y2="282.00" stroke="#5c5c5c" stroke-width="1.6"/>
<rect x="1612.40" y="230.00" width="11.00" height="43.00" fill="#ff9800"/>
<line x1="1631.76" y1="264.50" x2="1631.76" y2="307.50" stroke="#5c5c5c" stroke-width="1.6"/>
<rect x="1626.26" y="271.50" width="11.00" height="1.50" fill="#ff9800"/>
<line x1="1645.62" y1="219.50" x2="1645.62" y2="273.00" stroke="#5c5c5c" stroke-width="1.6"/>
<rect x="1640.12" y="225.50" width="11.00" height="47.50" fill="#000000"/>
</g>
<g clip-path="url(#cpRsi)">
<polyline points="12.50,1140.00 37.50,1137.50 65.00,1135.75 80.00,1134.00 92.50,1134.25 120.00,1137.00 150.00,1137.00 176.25,1140.00 190.00,1142.00 203.75,1146.25 217.50,1149.00 245.00,1156.25 260.00,1159.50 273.25,1167.00 300.00,1180.50 327.75,1196.25 342.00,1203.00 356.00,1206.50 383.75,1213.00 411.75,1221.75 426.25,1223.75 453.25,1223.75 467.50,1218.75 493.75,1210.75 508.75,1205.50 535.00,1196.25 549.25,1193.00 577.50,1183.75 591.75,1177.50 605.50,1172.50 620.00,1170.50 633.75,1169.75 675.00,1171.25 702.75,1170.50 744.50,1171.25 772.25,1176.25 799.75,1185.00 841.50,1195.75 869.25,1207.00 883.00,1212.50 910.75,1219.50 938.50,1221.00 952.25,1217.50 966.25,1215.00 994.00,1205.00 1007.75,1198.75 1035.50,1181.75 1063.25,1164.25 1077.00,1154.50 1091.00,1146.25 1104.75,1138.25 1118.75,1135.75 1132.50,1134.50 1160.25,1137.00 1188.00,1139.25 1201.75,1142.50 1215.75,1147.50 1229.50,1152.00 1257.25,1162.00 1271.00,1170.00 1298.75,1180.00 1312.75,1181.50 1340.50,1181.50 1354.25,1181.00 1382.00,1175.00 1409.75,1171.50 1437.50,1168.75 1451.25,1165.50 1479.00,1155.00 1491.50,1150.00 1505.50,1148.00 1520.50,1143.00 1548.25,1134.50 1561.25,1130.75 1589.50,1120.00 1617.00,1112.50 1645.00,1104.25" fill="none" stroke="#ffe94a" stroke-width="1.7" stroke-linejoin="round" stroke-linecap="round"/>
<polyline points="9.84,1115.00 23.70,1141.25 37.56,1129.50 51.42,1128.50 65.28,1126.00 79.14,1116.50 93.00,1141.75 106.86,1138.25 120.72,1140.00 134.58,1140.00 148.44,1135.75 162.30,1163.75 176.16,1191.25 190.02,1180.50 203.88,1175.50 217.74,1172.75 231.60,1178.25 245.46,1182.00 259.32,1168.00 273.18,1235.00 287.04,1230.25 300.90,1234.50 314.76,1240.00 328.62,1252.50 342.48,1235.00 356.34,1217.75 370.20,1229.75 384.06,1226.50 397.92,1242.00 411.78,1235.75 425.64,1204.50 439.50,1183.75 453.36,1162.75 467.22,1165.75 481.08,1167.50 494.94,1173.00 508.80,1173.25 522.66,1171.75 536.52,1172.00 550.38,1181.75 564.24,1163.75 578.10,1163.00 591.96,1159.50 605.82,1170.00 619.68,1173.25 633.54,1175.75 647.40,1176.75 661.26,1171.25 675.12,1167.00 688.98,1171.25 702.84,1170.50 716.70,1180.00 730.56,1178.75 744.42,1175.00 758.28,1205.00 772.14,1190.75 786.00,1222.00 799.86,1223.75 813.72,1227.25 827.58,1223.50 841.44,1231.75 855.30,1242.50 869.16,1248.50 883.02,1245.50 896.88,1221.25 910.74,1233.00 924.60,1187.50 938.46,1190.00 952.32,1156.75 966.18,1163.00 980.04,1144.50 993.90,1152.50 1007.76,1136.75 1021.62,1105.75 1035.48,1103.00 1049.34,1124.25 1063.20,1121.00 1077.06,1118.00 1090.92,1119.75 1104.78,1114.50 1118.64,1152.50 1132.50,1167.00 1146.36,1173.75 1160.22,1179.50 1174.08,1163.00 1187.94,1165.00 1201.80,1176.25 1215.66,1173.25 1229.52,1180.50 1243.38,1176.25 1257.24,1197.50 1271.10,1226.25 1284.96,1202.50 1298.82,1189.50 1312.68,1170.00 1326.54,1175.00 1340.40,1165.00 1354.26,1178.00 1368.12,1110.75 1381.98,1128.75 1395.84,1160.00 1409.70,1147.00 1423.56,1144.50 1437.42,1168.00 1451.28,1150.75 1465.14,1142.00 1479.00,1136.25 1492.86,1124.25 1506.72,1144.25 1520.58,1111.25 1534.44,1109.00 1548.30,1111.25 1562.16,1059.50 1576.02,1050.75 1589.88,1089.25 1603.74,1084.50 1617.60,1102.00 1631.46,1102.00 1645.32,1095.00" fill="none" stroke="#ff9a1f" stroke-width="1.7" stroke-linejoin="round" stroke-linecap="round"/>
</g>
<circle cx="1646.1" cy="1019.4" r="15.1" fill="#fff" stroke="#9c27b0" stroke-width="2.3"/>
<path d="M1650.4,1011.8 L1639.2,1019.7 L1645.8,1020.4 L1641.1,1027.2 L1652.7,1019.1 L1646.7,1018.4 Z" fill="#9c27b0"/>
<line x1="2741.60" y1="107.00" x2="2741.60" y2="1308.00" stroke="#4d4d4d" stroke-width="1.7"/>
<line x1="12.60" y1="1272.30" x2="2827.00" y2="1272.30" stroke="#4d4d4d" stroke-width="1.5"/>
<text x="2754.50" y="176.48" font-size="16" fill="#3a3a3a" stroke="#3a3a3a" stroke-width="0.35" font-weight="normal" text-anchor="start" textLength="60" lengthAdjust="spacingAndGlyphs">0.70800</text>
<text x="2754.50" y="324.48" font-size="16" fill="#3a3a3a" stroke="#3a3a3a" stroke-width="0.35" font-weight="normal" text-anchor="start" textLength="60" lengthAdjust="spacingAndGlyphs">0.70400</text>
<text x="2754.50" y="398.23" font-size="16" fill="#3a3a3a" stroke="#3a3a3a" stroke-width="0.35" font-weight="normal" text-anchor="start" textLength="60" lengthAdjust="spacingAndGlyphs">0.70200</text>
<text x="2754.50" y="473.98" font-size="16" fill="#3a3a3a" stroke="#3a3a3a" stroke-width="0.35" font-weight="normal" text-anchor="start" textLength="60" lengthAdjust="spacingAndGlyphs">0.70000</text>
<text x="2754.50" y="547.73" font-size="16" fill="#3a3a3a" stroke="#3a3a3a" stroke-width="0.35" font-weight="normal" text-anchor="start" textLength="60" lengthAdjust="spacingAndGlyphs">0.69800</text>
<text x="2754.50" y="621.98" font-size="16" fill="#3a3a3a" stroke="#3a3a3a" stroke-width="0.35" font-weight="normal" text-anchor="start" textLength="60" lengthAdjust="spacingAndGlyphs">0.69600</text>
<text x="2754.50" y="771.48" font-size="16" fill="#3a3a3a" stroke="#3a3a3a" stroke-width="0.35" font-weight="normal" text-anchor="start" textLength="60" lengthAdjust="spacingAndGlyphs">0.69200</text>
<text x="2754.50" y="845.73" font-size="16" fill="#3a3a3a" stroke="#3a3a3a" stroke-width="0.35" font-weight="normal" text-anchor="start" textLength="60" lengthAdjust="spacingAndGlyphs">0.69000</text>
<text x="2754.50" y="920.23" font-size="16" fill="#3a3a3a" stroke="#3a3a3a" stroke-width="0.35" font-weight="normal" text-anchor="start" textLength="60" lengthAdjust="spacingAndGlyphs">0.68800</text>
<text x="2754.50" y="1081.23" font-size="16" fill="#3a3a3a" stroke="#3a3a3a" stroke-width="0.35" font-weight="normal" text-anchor="start" textLength="41.5" lengthAdjust="spacingAndGlyphs">80.00</text>
<text x="2754.50" y="1154.48" font-size="16" fill="#3a3a3a" stroke="#3a3a3a" stroke-width="0.35" font-weight="normal" text-anchor="start" textLength="41.5" lengthAdjust="spacingAndGlyphs">60.00</text>
<text x="2754.50" y="1228.23" font-size="16" fill="#3a3a3a" stroke="#3a3a3a" stroke-width="0.35" font-weight="normal" text-anchor="start" textLength="41.5" lengthAdjust="spacingAndGlyphs">40.00</text>
<clipPath id="cpRed"><rect x="2741" y="155.5" width="90" height="10"/></clipPath>
<g clip-path="url(#cpRed)">
<rect x="2742.40" y="140.00" width="78.60" height="23.00" fill="#ff0000"/>
<text x="2754.00" y="156.73" font-size="16" fill="#fff" font-weight="bold" text-anchor="start" textLength="59.5" lengthAdjust="spacingAndGlyphs">0.70850</text>
</g>
<rect x="2746.5" y="112.5" width="74.5" height="37.5" rx="6" fill="#fff" stroke="#f1f1f1" stroke-width="2"/>
<text x="2776.70" y="137.86" font-size="17.5" fill="#1e1e1e" stroke="#1e1e1e" stroke-width="0.35" font-weight="normal" text-anchor="middle" textLength="31.5" lengthAdjust="spacingAndGlyphs">USD</text>
<rect x="2742.30" y="213.80" width="78.70" height="62.50" fill="#000000" rx="2.5"/>
<text x="2754.00" y="233.23" font-size="16" fill="#fff" font-weight="bold" text-anchor="start" textLength="59.5" lengthAdjust="spacingAndGlyphs">0.70651</text>
<text x="2754.50" y="252.03" font-size="16" fill="#fff" font-weight="bold" text-anchor="start" textLength="52" lengthAdjust="spacingAndGlyphs">+2.31%</text>
<text x="2754.50" y="270.73" font-size="16" fill="#d0d0d0" font-weight="bold" text-anchor="start" textLength="42" lengthAdjust="spacingAndGlyphs">41:34</text>
<rect x="2742.30" y="341.80" width="78.70" height="24.00" fill="#4caf50" rx="2.5"/>
<text x="2754.00" y="359.83" font-size="16" fill="#fff" font-weight="bold" text-anchor="start" textLength="59.5" lengthAdjust="spacingAndGlyphs">0.70307</text>
<rect x="2742.30" y="558.30" width="78.70" height="24.20" fill="#4caf50" rx="2.5"/>
<text x="2754.00" y="576.43" font-size="16" fill="#fff" font-weight="bold" text-anchor="start" textLength="59.5" lengthAdjust="spacingAndGlyphs">0.69725</text>
<rect x="2742.30" y="658.30" width="78.70" height="23.70" fill="#4caf50" rx="2.5"/>
<text x="2754.00" y="676.18" font-size="16" fill="#fff" font-weight="bold" text-anchor="start" textLength="59.5" lengthAdjust="spacingAndGlyphs">0.69456</text>
<rect x="2742.30" y="839.30" width="78.70" height="23.70" fill="#4caf50" rx="2.5"/>
<text x="2754.00" y="857.18" font-size="16" fill="#fff" font-weight="bold" text-anchor="start" textLength="59.5" lengthAdjust="spacingAndGlyphs">0.68970</text>
<rect x="2742.30" y="980.80" width="78.70" height="24.20" fill="#4caf50" rx="2.5"/>
<text x="2754.00" y="998.93" font-size="16" fill="#fff" font-weight="bold" text-anchor="start" textLength="59.5" lengthAdjust="spacingAndGlyphs">0.68589</text>
<rect x="2742.30" y="682.00" width="78.70" height="23.80" fill="#ffb74d" rx="2.5"/>
<text x="2754.00" y="699.93" font-size="16" fill="#111" stroke="#111" stroke-width="0.35" font-weight="normal" text-anchor="start" textLength="59.5" lengthAdjust="spacingAndGlyphs">0.69456</text>
<rect x="2742.30" y="1083.80" width="61.20" height="22.50" fill="#ff9800" rx="2.5"/>
<text x="2754.50" y="1101.23" font-size="16" fill="#111" stroke="#111" stroke-width="0.35" font-weight="normal" text-anchor="start" textLength="41.5" lengthAdjust="spacingAndGlyphs">74.64</text>
<rect x="2742.30" y="1106.30" width="61.20" height="23.70" fill="#ffeb3b" rx="2.5"/>
<text x="2754.50" y="1124.23" font-size="16" fill="#111" stroke="#111" stroke-width="0.35" font-weight="normal" text-anchor="start" textLength="41.5" lengthAdjust="spacingAndGlyphs">72.05</text>
<text x="2727.60" y="141.66" font-size="17.5" fill="#808080" stroke="#808080" stroke-width="0.35" font-weight="normal" text-anchor="end" textLength="94" lengthAdjust="spacingAndGlyphs">0 (0.70846)</text>
<text x="2727.60" y="339.16" font-size="17.5" fill="#d93a3a" stroke="#d93a3a" stroke-width="0.35" font-weight="normal" text-anchor="end" textLength="130" lengthAdjust="spacingAndGlyphs">0.236 (0.70315)</text>
<text x="2727.60" y="461.66" font-size="17.5" fill="#f01c1c" stroke="#f01c1c" stroke-width="0.35" font-weight="normal" text-anchor="end" textLength="130" lengthAdjust="spacingAndGlyphs">0.382 (0.69987)</text>
<text x="2727.60" y="560.46" font-size="17.5" fill="#4a2340" stroke="#4a2340" stroke-width="0.35" font-weight="normal" text-anchor="end" textLength="110" lengthAdjust="spacingAndGlyphs">0.5 (0.69721)</text>
<text x="2727.60" y="658.66" font-size="17.5" fill="#2ec7a2" stroke="#2ec7a2" stroke-width="0.35" font-weight="normal" text-anchor="end" textLength="130" lengthAdjust="spacingAndGlyphs">0.618 (0.69456)</text>
<text x="2727.60" y="781.16" font-size="17.5" fill="#cc1a2a" stroke="#cc1a2a" stroke-width="0.35" font-weight="normal" text-anchor="end" textLength="130" lengthAdjust="spacingAndGlyphs">0.764 (0.69128)</text>
<text x="2727.60" y="837.96" font-size="17.5" fill="#d63030" stroke="#d63030" stroke-width="0.35" font-weight="normal" text-anchor="end" textLength="130" lengthAdjust="spacingAndGlyphs">0.832 (0.68975)</text>
<text x="2727.60" y="978.66" font-size="17.5" fill="#58a8dc" stroke="#58a8dc" stroke-width="0.35" font-weight="normal" text-anchor="end" textLength="93" lengthAdjust="spacingAndGlyphs">1 (0.68597)</text>
<text x="2106.30" y="138.40" font-size="28.5" fill="#ff9800" font-weight="bold" text-anchor="start" textLength="101" lengthAdjust="spacingAndGlyphs">0.7085</text>
<text x="2120.40" y="343.30" font-size="28.5" fill="#ff9800" font-weight="bold" text-anchor="start" textLength="101" lengthAdjust="spacingAndGlyphs">0.7030</text>
<text x="2120.40" y="563.70" font-size="28.5" fill="#ff9800" font-weight="bold" text-anchor="start" textLength="101" lengthAdjust="spacingAndGlyphs">0.6970</text>
<text x="2120.40" y="658.20" font-size="28.5" fill="#ff9800" font-weight="bold" text-anchor="start" textLength="101" lengthAdjust="spacingAndGlyphs">0.6945</text>
<text x="2120.40" y="838.20" font-size="28.5" fill="#ff9800" font-weight="bold" text-anchor="start" textLength="101" lengthAdjust="spacingAndGlyphs">0.6895</text>
<text x="2120.40" y="979.20" font-size="28.5" fill="#ff9800" font-weight="bold" text-anchor="start" textLength="101" lengthAdjust="spacingAndGlyphs">0.6860</text>
<text x="24.30" y="134.34" font-size="18" fill="#444" stroke="#444" stroke-width="0.35" font-weight="normal" text-anchor="start" textLength="367.7" lengthAdjust="spacingAndGlyphs">Australian Dollar / U.S. Dollar · 1h · FXOpen</text>
<text x="404.20" y="134.34" font-size="18" fill="#555" stroke="#555" stroke-width="0.35" font-weight="normal" text-anchor="start" textLength="12.5" lengthAdjust="spacingAndGlyphs">O</text>
<text x="417.70" y="134.34" font-size="18" fill="#222" stroke="#222" stroke-width="0.35" font-weight="normal" text-anchor="start" textLength="63" lengthAdjust="spacingAndGlyphs">0.70527</text>
<text x="493.70" y="134.34" font-size="18" fill="#555" stroke="#555" stroke-width="0.35" font-weight="normal" text-anchor="start" textLength="11.5" lengthAdjust="spacingAndGlyphs">H</text>
<text x="506.20" y="134.34" font-size="18" fill="#222" stroke="#222" stroke-width="0.35" font-weight="normal" text-anchor="start" textLength="64" lengthAdjust="spacingAndGlyphs">0.70665</text>
<text x="583.40" y="134.34" font-size="18" fill="#555" stroke="#555" stroke-width="0.35" font-weight="normal" text-anchor="start" textLength="8" lengthAdjust="spacingAndGlyphs">L</text>
<text x="592.40" y="134.34" font-size="18" fill="#222" stroke="#222" stroke-width="0.35" font-weight="normal" text-anchor="start" textLength="64.4" lengthAdjust="spacingAndGlyphs">0.70522</text>
<text x="669.00" y="134.34" font-size="18" fill="#555" stroke="#555" stroke-width="0.35" font-weight="normal" text-anchor="start" textLength="10.5" lengthAdjust="spacingAndGlyphs">C</text>
<text x="680.50" y="134.34" font-size="18" fill="#222" stroke="#222" stroke-width="0.35" font-weight="normal" text-anchor="start" textLength="64" lengthAdjust="spacingAndGlyphs">0.70651</text>
<text x="756.40" y="134.34" font-size="18" fill="#222" stroke="#222" stroke-width="0.35" font-weight="normal" text-anchor="start" textLength="151" lengthAdjust="spacingAndGlyphs">+0.00125 (+0.18%)</text>
<g clip-path="url(#cpTime)">
<text x="9.80" y="1296.23" font-size="16" fill="#3a3a3a" stroke="#3a3a3a" stroke-width="0.35" font-weight="normal" text-anchor="middle" textLength="41" lengthAdjust="spacingAndGlyphs">06:00</text>
<text x="93.00" y="1296.23" font-size="16" fill="#3a3a3a" stroke="#3a3a3a" stroke-width="0.35" font-weight="normal" text-anchor="middle" textLength="41" lengthAdjust="spacingAndGlyphs">12:00</text>
<text x="176.50" y="1296.23" font-size="16" fill="#3a3a3a" stroke="#3a3a3a" stroke-width="0.35" font-weight="normal" text-anchor="middle" textLength="41" lengthAdjust="spacingAndGlyphs">18:00</text>
<text x="260.25" y="1296.23" font-size="16" fill="#3a3a3a" font-weight="bold" text-anchor="middle">2</text>
<text x="342.75" y="1296.23" font-size="16" fill="#3a3a3a" stroke="#3a3a3a" stroke-width="0.35" font-weight="normal" text-anchor="middle" textLength="41" lengthAdjust="spacingAndGlyphs">06:00</text>
<text x="426.25" y="1296.23" font-size="16" fill="#3a3a3a" stroke="#3a3a3a" stroke-width="0.35" font-weight="normal" text-anchor="middle" textLength="41" lengthAdjust="spacingAndGlyphs">12:00</text>
<text x="508.75" y="1296.23" font-size="16" fill="#3a3a3a" stroke="#3a3a3a" stroke-width="0.35" font-weight="normal" text-anchor="middle" textLength="41" lengthAdjust="spacingAndGlyphs">18:00</text>
<text x="592.25" y="1296.23" font-size="16" fill="#3a3a3a" stroke="#3a3a3a" stroke-width="0.35" font-weight="normal" text-anchor="middle">3</text>
<text x="674.75" y="1296.23" font-size="16" fill="#3a3a3a" stroke="#3a3a3a" stroke-width="0.35" font-weight="normal" text-anchor="middle" textLength="41" lengthAdjust="spacingAndGlyphs">06:00</text>
<text x="758.50" y="1296.23" font-size="16" fill="#3a3a3a" stroke="#3a3a3a" stroke-width="0.35" font-weight="normal" text-anchor="middle" textLength="41" lengthAdjust="spacingAndGlyphs">12:00</text>
<text x="882.50" y="1296.23" font-size="16" fill="#3a3a3a" stroke="#3a3a3a" stroke-width="0.35" font-weight="normal" text-anchor="middle">5</text>
<text x="1008.00" y="1296.23" font-size="16" fill="#3a3a3a" stroke="#3a3a3a" stroke-width="0.35" font-weight="normal" text-anchor="middle" textLength="41" lengthAdjust="spacingAndGlyphs">06:00</text>
<text x="1090.50" y="1296.23" font-size="16" fill="#3a3a3a" stroke="#3a3a3a" stroke-width="0.35" font-weight="normal" text-anchor="middle" textLength="41" lengthAdjust="spacingAndGlyphs">12:00</text>
<text x="1174.00" y="1296.23" font-size="16" fill="#3a3a3a" stroke="#3a3a3a" stroke-width="0.35" font-weight="normal" text-anchor="middle" textLength="41" lengthAdjust="spacingAndGlyphs">18:00</text>
<text x="1258.25" y="1296.23" font-size="16" fill="#3a3a3a" stroke="#3a3a3a" stroke-width="0.35" font-weight="normal" text-anchor="middle">7</text>
<text x="1340.50" y="1296.23" font-size="16" fill="#3a3a3a" stroke="#3a3a3a" stroke-width="0.35" font-weight="normal" text-anchor="middle" textLength="41" lengthAdjust="spacingAndGlyphs">06:00</text>
<text x="1424.25" y="1296.23" font-size="16" fill="#3a3a3a" stroke="#3a3a3a" stroke-width="0.35" font-weight="normal" text-anchor="middle" textLength="41" lengthAdjust="spacingAndGlyphs">12:00</text>
<text x="1506.25" y="1296.23" font-size="16" fill="#3a3a3a" stroke="#3a3a3a" stroke-width="0.35" font-weight="normal" text-anchor="middle" textLength="41" lengthAdjust="spacingAndGlyphs">18:00</text>
<text x="1590.00" y="1296.23" font-size="16" fill="#3a3a3a" stroke="#3a3a3a" stroke-width="0.35" font-weight="normal" text-anchor="middle">8</text>
<text x="1672.25" y="1296.23" font-size="16" fill="#3a3a3a" stroke="#3a3a3a" stroke-width="0.35" font-weight="normal" text-anchor="middle" textLength="41" lengthAdjust="spacingAndGlyphs">06:00</text>
<text x="1756.00" y="1296.23" font-size="16" fill="#3a3a3a" stroke="#3a3a3a" stroke-width="0.35" font-weight="normal" text-anchor="middle" textLength="41" lengthAdjust="spacingAndGlyphs">12:00</text>
<text x="1839.50" y="1296.23" font-size="16" fill="#3a3a3a" stroke="#3a3a3a" stroke-width="0.35" font-weight="normal" text-anchor="middle" textLength="41" lengthAdjust="spacingAndGlyphs">18:00</text>
<text x="1922.00" y="1296.23" font-size="16" fill="#3a3a3a" stroke="#3a3a3a" stroke-width="0.35" font-weight="normal" text-anchor="middle">9</text>
<text x="2005.30" y="1296.23" font-size="16" fill="#3a3a3a" stroke="#3a3a3a" stroke-width="0.35" font-weight="normal" text-anchor="middle" textLength="41" lengthAdjust="spacingAndGlyphs">06:00</text>
<text x="2088.60" y="1296.23" font-size="16" fill="#3a3a3a" stroke="#3a3a3a" stroke-width="0.35" font-weight="normal" text-anchor="middle" textLength="41" lengthAdjust="spacingAndGlyphs">12:00</text>
<text x="2172.10" y="1296.23" font-size="16" fill="#3a3a3a" stroke="#3a3a3a" stroke-width="0.35" font-weight="normal" text-anchor="middle" textLength="41" lengthAdjust="spacingAndGlyphs">18:00</text>
<text x="2255.70" y="1296.23" font-size="16" fill="#3a3a3a" stroke="#3a3a3a" stroke-width="0.35" font-weight="normal" text-anchor="middle">10</text>
<text x="2338.00" y="1296.23" font-size="16" fill="#3a3a3a" stroke="#3a3a3a" stroke-width="0.35" font-weight="normal" text-anchor="middle" textLength="41" lengthAdjust="spacingAndGlyphs">06:00</text>
<text x="2421.50" y="1296.23" font-size="16" fill="#3a3a3a" stroke="#3a3a3a" stroke-width="0.35" font-weight="normal" text-anchor="middle" textLength="41" lengthAdjust="spacingAndGlyphs">12:00</text>
<text x="2546.00" y="1296.23" font-size="16" fill="#3a3a3a" stroke="#3a3a3a" stroke-width="0.35" font-weight="normal" text-anchor="middle">12</text>
<text x="2669.75" y="1296.23" font-size="16" fill="#3a3a3a" stroke="#3a3a3a" stroke-width="0.35" font-weight="normal" text-anchor="middle" textLength="41" lengthAdjust="spacingAndGlyphs">06:00</text>
</g>
<g transform="translate(1250,1375) scale(0.091873)">
<path d="M637.1,130.3 A582,582 0 1 1 237.2,365.9" fill="none" stroke="#ff5500" stroke-width="30" stroke-linecap="butt"/>
<path d="M756.7,244.6 A466,466 0 0 1 1171.4,756.7" fill="none" stroke="#ff5500" stroke-width="36" stroke-linecap="round"/>
<path d="M603.2,1162.1 A466,466 0 0 1 249.1,627.1" fill="none" stroke="#ff5500" stroke-width="36" stroke-linecap="round"/>
<path fill="#ff5500" d="M205,545 C195,500 235,470 285,455 C272,400 290,352 322,330 C300,300 312,268 345,255 C400,228 470,228 500,262 C540,300 600,298 640,280 C680,258 715,250 735,265 C770,275 810,320 826,359 C845,400 845,470 816,511 C790,560 700,640 638,679 C590,710 555,740 537,765 C505,810 478,850 471,892 C465,940 475,990 491,1030 C497,1050 504,1066 511,1080 C490,1065 475,1050 461,1030 C435,1000 415,975 400,943 C380,905 365,880 359,842 C350,800 347,770 349,740 C352,690 365,650 385,610 C330,612 250,600 205,545 Z"/>
<path fill="#ff5500" d="M359,136 C290,150 222,190 222,240 C222,280 255,305 288,313 L300,272 C277,258 264,240 268,217 C274,187 310,160 359,141 Z"/>
<path fill="#ff5500" d="M450,115 C500,98 560,98 600,120 C640,140 655,180 640,220 C620,265 560,292 491,300 L500,262 C540,250 578,230 585,197 C588,167 560,142 527,137 C500,131 475,125 450,115 Z"/>
<path fill="none" stroke="#ff5500" stroke-width="11" stroke-linecap="round" d="M328,232 C370,205 430,172 532,142"/>
<path fill="#ff5500" d="M590,290 C620,250 670,232 709,232 C690,280 650,308 590,308 Z"/>
<path fill="#f8f8f8" d="M622,284 C640,262 665,250 685,248 C672,272 650,286 622,284 Z"/>
<path fill="#ff5500" d="M822,300 C900,380 1000,480 1028,600 C1040,660 1030,700 1000,740 C1060,730 1130,750 1180,800 C1215,830 1210,870 1130,900 C1150,960 1150,1040 1140,1150 C1100,1145 1060,1120 1040,1100 C1000,1140 950,1150 900,1180 C830,1200 730,1200 660,1180 C600,1160 540,1090 520,1010 C500,930 520,860 590,800 C660,740 760,700 830,640 C890,580 900,450 822,300 Z"/>
<path fill="none" stroke="#ff5500" stroke-width="30" stroke-linecap="round" d="M960,780 C930,720 980,660 1060,655"/>
<path fill="#ff5500" d="M990,690 C1030,660 1080,660 1100,720 C1070,760 1010,760 990,690 Z"/>
<path fill="#f8f8f8" d="M694,375 C700,330 760,325 785,390 C800,450 780,500 740,545 C680,610 590,665 521,709 C560,640 620,570 660,510 C690,460 690,420 694,375 Z"/>
<path fill="#f8f8f8" d="M892,660 C870,760 820,800 790,905 C740,900 720,840 760,790 C800,740 850,720 892,660 Z"/>
<path fill="#f8f8f8" d="M600,1055 C620,1120 680,1150 745,1150 C700,1170 630,1150 600,1055 Z"/>
<path fill="#f8f8f8" d="M465,400 C500,370 560,370 585,410 C580,460 520,510 470,500 C440,470 440,430 465,400 Z"/>
<ellipse cx="450" cy="385" rx="30" ry="18" fill="#f8f8f8" transform="rotate(-20 450 385)"/>
<circle cx="452" cy="384" r="11" fill="#ff5500"/>
<ellipse cx="262" cy="510" rx="48" ry="26" fill="#f8f8f8" transform="rotate(-25 262 510)"/>
<path fill="none" stroke="#f8f8f8" stroke-width="12" stroke-linecap="round" d="M330,545 C350,560 375,545 375,520"/>
<path fill="none" stroke="#f8f8f8" stroke-width="12" stroke-linecap="round" d="M300,440 C340,425 380,430 410,455"/>
<ellipse cx="315" cy="372" rx="22" ry="14" fill="#f8f8f8" transform="rotate(-50 315 372)"/>
<ellipse cx="980" cy="950" rx="36" ry="16" fill="#f8f8f8" transform="rotate(-25 980 950)"/>
<circle cx="985" cy="948" r="9" fill="#ff5500"/>
<path fill="none" stroke="#f8f8f8" stroke-width="14" stroke-linecap="round" d="M975,1040 C1010,1040 1050,1020 1070,985"/>
<path fill="none" stroke="#f8f8f8" stroke-width="12" stroke-linecap="round" d="M815,1060 C790,1110 820,1160 880,1165 C930,1150 940,1110 930,1085"/>
<path fill="#f8f8f8" d="M850,1090 C880,1075 910,1080 925,1095 C920,1130 890,1150 860,1140 C845,1125 845,1105 850,1090 Z"/>
<path fill="#ff5500" d="M862,1105 L905,1100 L905,1112 L880,1116 L880,1135 L862,1135 Z"/>
<ellipse cx="1100" cy="830" rx="40" ry="22" fill="#f8f8f8" transform="rotate(-30 1100 830)"/>
<path fill="#f8f8f8" d="M1100,1090 L1135,1065 L1135,1120 Z"/>
</g>
<text font-weight="bold"><tspan x="1384.6" y="1467.3" font-size="77.5" fill="#111111" stroke="#111111" stroke-width="2" letter-spacing="-5.6">FX</tspan><tspan x="1468.6" y="1462.3" font-size="83.5" fill="#ff5500" stroke="#ff5500" stroke-width="1.2" letter-spacing="-8.2">open</tspan></text>
</svg>

</body></html>
